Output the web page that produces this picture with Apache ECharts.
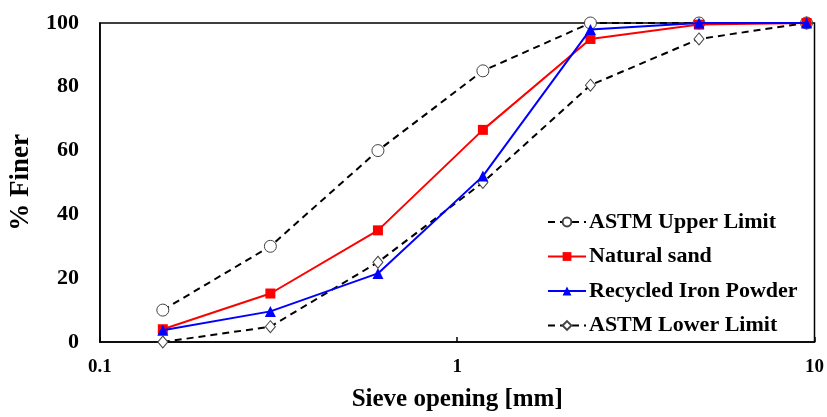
<!DOCTYPE html>
<html>
<head>
<meta charset="utf-8">
<script src="https://cdn.jsdelivr.net/npm/echarts@6/dist/echarts.min.js"></script>
<style>
  html, body { margin: 0; padding: 0; background: #fff; }
  #chart { width: 827px; height: 417px; }
</style>
</head>
<body>
<div id="chart"></div>
<script>
// Sieve openings (mm) and percent passing for each gradation
const sieveSizes = [0.15, 0.3, 0.6, 1.18, 2.36, 4.75, 9.5];
const astmUpper = [10, 30, 60, 85, 100, 100, 100];
const naturalSand = [4, 15.2, 35, 66.5, 95, 99.5, 100];
const ironPowder = [3.7, 9.6, 21.5, 52, 98, 100, 100];
const astmLower = [0, 4.8, 25, 50, 80.5, 95, 100];

const seriesNames = ['ASTM Upper Limit', 'Natural sand', 'Recycled Iron Powder', 'ASTM Lower Limit'];

function pairs(values) {
  return sieveSizes.map((s, i) => [s, values[i]]);
}

const serif = '"Liberation Serif", "DejaVu Serif", serif';

const chart = echarts.init(document.getElementById('chart'));
chart.setOption({
  animation: false,
  backgroundColor: '#fff',
  grid: {
    left: 95, right: 10, top: 23, bottom: 71,
    show: true, borderColor: '#000', borderWidth: 1.5
  },
  xAxis: {
    type: 'log',
    logBase: 10,
    min: 0.1,
    max: 10,
    name: 'Sieve opening [mm]',
    nameLocation: 'middle',
    nameGap: 45,
    nameTextStyle: { fontFamily: serif, fontWeight: 'bold', fontSize: 25, color: '#000' },
    axisLine: { lineStyle: { color: '#000', width: 1.5 } },
    axisTick: { show: true, inside: true, length: 5, lineStyle: { color: '#000', width: 1.5 } },
    minorTick: { show: false },
    splitLine: { show: false },
    axisLabel: {
      fontFamily: serif, fontWeight: 'bold', fontSize: 19, color: '#000', margin: 16,
      formatter: v => String(+v.toPrecision(3))
    }
  },
  yAxis: {
    type: 'value',
    min: 0,
    max: 100,
    interval: 20,
    name: '% Finer',
    nameLocation: 'middle',
    nameGap: 57,
    nameTextStyle: { fontFamily: serif, fontWeight: 'bold', fontSize: 27, color: '#000' },
    axisLine: { show: true, lineStyle: { color: '#000', width: 1.5 } },
    axisTick: { show: false },
    splitLine: { show: false },
    axisLabel: { fontFamily: serif, fontWeight: 'bold', fontSize: 22, color: '#000', margin: 21 }
  },
  legend: {
    data: seriesNames,
    orient: 'vertical',
    left: 547,
    top: 211,
    padding: 0,
    itemWidth: 38,
    itemHeight: 11,
    itemGap: 12.5,
    textStyle: {
      fontFamily: serif, fontWeight: 'bold', fontSize: 22, lineHeight: 22,
      color: '#000', padding: [0, 0, 0, -2]
    }
  },
  series: [
    {
      name: seriesNames[0], type: 'line', data: pairs(astmUpper),
      symbol: 'circle', symbolSize: 12,
      itemStyle: { color: '#fff', borderColor: '#444', borderWidth: 1 },
      lineStyle: { color: '#000', width: 2, type: [7, 5] },
      z: 2
    },
    {
      name: seriesNames[1], type: 'line', data: pairs(naturalSand),
      symbol: 'rect', symbolSize: 10,
      itemStyle: { color: '#ff0000' },
      lineStyle: { color: '#ff0000', width: 2 },
      z: 3
    },
    {
      name: seriesNames[2], type: 'line', data: pairs(ironPowder),
      symbol: 'triangle', symbolSize: 11,
      itemStyle: { color: '#0000ff' },
      lineStyle: { color: '#0000ff', width: 2 },
      z: 4
    },
    {
      name: seriesNames[3], type: 'line', data: pairs(astmLower),
      symbol: 'diamond', symbolSize: [10, 12],
      itemStyle: { color: '#fff', borderColor: '#444', borderWidth: 1 },
      lineStyle: { color: '#000', width: 2, type: [7, 5] },
      z: 2
    }
  ]
});
</script>
</body>
</html>
